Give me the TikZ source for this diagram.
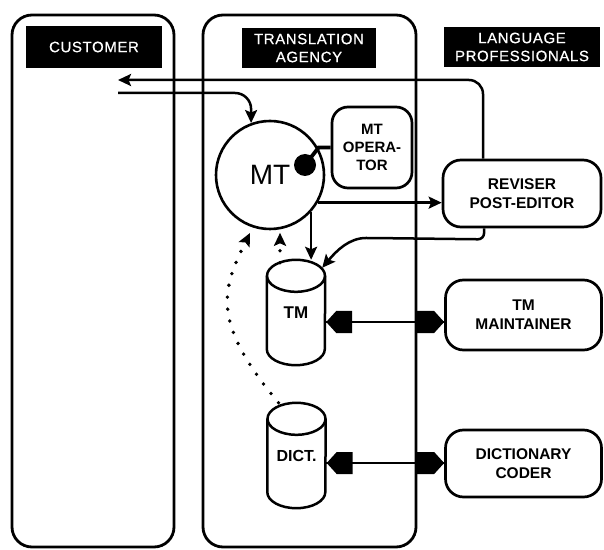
\documentclass[tikz,border=0pt]{standalone}
\usepackage{fontspec}
\setmainfont{Liberation Sans}
\usetikzlibrary{arrows.meta,calc}
\begin{document}
\begin{tikzpicture}[x=1pt,y=1pt,
  col/.style={draw, line width=2.8pt, rounded corners=20pt, inner sep=0pt},
  lbl/.style={fill=black, text=white, inner sep=0pt, align=center,
    font=\fontsize{15}{18}\selectfont\addfontfeatures{LetterSpace=4,FakeBold=0.6}},
  role/.style={draw, fill=white, line width=2.7pt, rounded corners=18pt, inner sep=0pt, align=center,
    font=\fontsize{15.5}{19}\selectfont\bfseries},
  conn/.style={line width=2.5pt},
  arr/.tip={Stealth[length=13pt,width=12pt,inset=2.5pt]},
  dots/.style={line width=3.8pt, dash pattern=on 0pt off 12pt, line cap=round},
  store/.style={draw=none, inner sep=0pt, font=\fontsize{16}{19}\selectfont\bfseries}
]
\useasboundingbox (0,0) rectangle (604,549);

% columns
\node[col, minimum width=162pt, minimum height=532pt] (cust) at (93,268) {};
\node[col, minimum width=213pt, minimum height=532pt] (agency) at (309.5,268) {};

% column labels
\node[lbl, minimum width=136pt, minimum height=42pt] (custlbl) at (94,502) {CUSTOMER};
\node[lbl, minimum width=134pt, minimum height=40pt] (agencylbl) at (309,501) {TRANSLATION\\AGENCY};
\node[lbl, minimum width=156pt, minimum height=40pt] (langlbl) at (522,502) {LANGUAGE\\PROFESSIONALS};

% main nodes
\node[circle, draw, fill=white, line width=2.6pt, minimum size=108pt, inner sep=0pt,
      font=\fontsize{28}{30}\selectfont] (mt) at (270,374) {MT};
\node[role, minimum width=80pt, minimum height=81pt, rounded corners=16pt,
      font=\fontsize{15}{18}\selectfont\bfseries] (op) at (372,401.5) {MT\\OPERA-\\TOR};
\node[role, minimum width=158pt, minimum height=67pt] (rev) at (522,355.5) {REVISER\\POST-EDITOR};
\node[role, minimum width=156pt, minimum height=70pt] (tmm) at (523.5,234) {TM\\MAINTAINER};
\node[role, minimum width=156pt, minimum height=67pt] (dcc) at (523.5,85.5) {DICTIONARY\\CODER};

% stores (cylinders)
\node[store, minimum width=58pt, minimum height=105pt, font=\fontsize{17}{19}\selectfont\bfseries] (tm) at (296,236.5) {TM};
\node[store, minimum width=58pt, minimum height=105pt] (dict) at (296.5,93.5) {DICT.};
\foreach \s in {tm,dict}{
  \draw[line width=2.5pt] ([yshift=-16pt]\s.north west) -- ([yshift=16pt]\s.south west)
     arc[start angle=180,end angle=360,x radius=29pt,y radius=16pt] -- ([yshift=-16pt]\s.north east);
  \draw[line width=2.5pt] ([yshift=-16pt]\s.north) ellipse [x radius=29pt, y radius=16pt];
}

% operator link
\node[circle, fill=black, minimum size=22pt, inner sep=0pt] (dot) at (305,384) {};
\draw[line width=3.8pt] (dot.center) -- ([xshift=-12pt]op.west) -- (op.west);

% connectors
\coordinate (ret) at (118,469);
\coordinate (inc) at (118,456);
\draw[conn, -{arr}, rounded corners=14pt] ([xshift=-39pt]rev.north) |- (ret);
\draw[conn, -{arr}, rounded corners=16pt] (inc) -| (mt.110);
\draw[conn, -{arr}] (mt.-30) -- (mt.-30 -| rev.west);
\draw[conn, -{arr}] (mt.-42) -- (mt.-42 |- tm.north);
\coordinate (tmtip) at ([xshift=-3pt,yshift=-8pt]tm.north east);
\draw[conn, -{arr}, rounded corners=6pt] ([xshift=-38pt]rev.south) -- ++(0,-11) -- (372,311)
   to[out=180,in=50] (tmtip);

% dotted feeds into MT
\coordinate (d1) at (250,316);
\draw[dots, -{arr}] ([xshift=-18pt]dict.north) .. controls (212,226) and (221,258) .. (d1);
\draw[dots, -{arr}] ([xshift=-16pt,yshift=-3pt]tm.north) -- ++(0,30);

% double links
\draw[line width=2.8pt] ([yshift=-9.5pt]tm.east) -- ([yshift=-9.5pt]tm.east -| tmm.west);
\fill ([xshift=1pt,yshift=-9.5pt]tm.east) -- ++(10,11) -- ++(16,0) -- ++(0,-22) -- ++(-16,0) -- cycle;
\fill ([yshift=-9.5pt]tm.east -| tmm.west) -- ++(-10,11) -- ++(-17,0) -- ++(0,-22) -- ++(17,0) -- cycle;

\draw[line width=2.8pt] ([yshift=-7.5pt]dict.east) -- ([yshift=-7.5pt]dict.east -| dcc.west);
\fill ([xshift=1pt,yshift=-7.5pt]dict.east) -- ++(10,11) -- ++(16,0) -- ++(0,-22) -- ++(-16,0) -- cycle;
\fill ([yshift=-7.5pt]dict.east -| dcc.west) -- ++(-10,11) -- ++(-17,0) -- ++(0,-22) -- ++(17,0) -- cycle;
\end{tikzpicture}
\end{document}
